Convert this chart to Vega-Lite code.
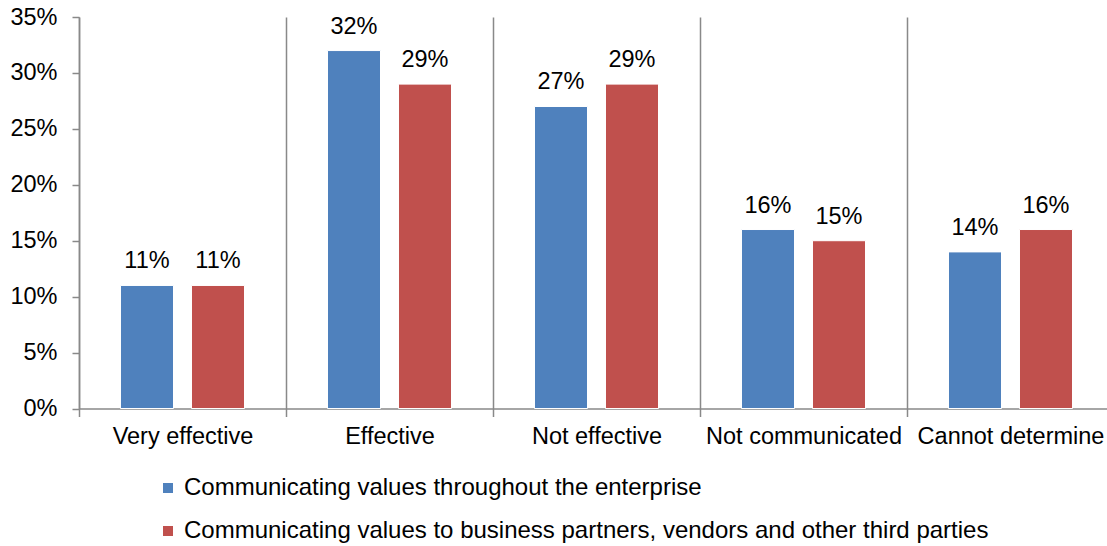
{
  "$schema": "https://vega.github.io/schema/vega-lite/v6.json",
  "width": 1028,
  "height": 391.5,
  "autosize": {"type": "none"},
  "padding": {"left": 79, "top": 17, "right": 0, "bottom": 137.5},
  "background": "white",
  "config": {"view": {"stroke": null}, "font": "Liberation Sans"},
  "data": {
    "values": [
      {"category": "Very effective", "series": "Communicating values throughout the enterprise", "value": 0.11},
      {"category": "Very effective", "series": "Communicating values to business partners, vendors and other third parties", "value": 0.11},
      {"category": "Effective", "series": "Communicating values throughout the enterprise", "value": 0.32},
      {"category": "Effective", "series": "Communicating values to business partners, vendors and other third parties", "value": 0.29},
      {"category": "Not effective", "series": "Communicating values throughout the enterprise", "value": 0.27},
      {"category": "Not effective", "series": "Communicating values to business partners, vendors and other third parties", "value": 0.29},
      {"category": "Not communicated", "series": "Communicating values throughout the enterprise", "value": 0.16},
      {"category": "Not communicated", "series": "Communicating values to business partners, vendors and other third parties", "value": 0.15},
      {"category": "Cannot determine", "series": "Communicating values throughout the enterprise", "value": 0.14},
      {"category": "Cannot determine", "series": "Communicating values to business partners, vendors and other third parties", "value": 0.16}
    ]
  },
  "encoding": {
    "x": {
      "field": "category",
      "type": "nominal",
      "sort": ["Very effective", "Effective", "Not effective", "Not communicated", "Cannot determine"],
      "scale": {"paddingInner": 0, "paddingOuter": 0, "range": [0, 1035]},
      "axis": {
        "title": null,
        "labelAngle": 0,
        "tickBand": "extent",
        "grid": true,
        "gridColor": "#898989",
        "gridWidth": 1.5,
        "domainColor": "#898989",
        "domainWidth": 1.5,
        "tickColor": "#898989",
        "tickWidth": 1.5,
        "tickSize": 8,
        "labelFontSize": 23.5,
        "labelColor": "black",
        "labelPadding": 8,
        "labelLimit": 300
      }
    },
    "xOffset": {
      "field": "series",
      "type": "nominal",
      "sort": ["Communicating values throughout the enterprise", "Communicating values to business partners, vendors and other third parties"],
      "scale": {"paddingInner": 0.2535, "paddingOuter": 0.5845}
    },
    "y": {
      "field": "value",
      "type": "quantitative",
      "scale": {"domain": [0, 0.35]},
      "axis": {
        "title": null,
        "grid": false,
        "values": [0, 0.05, 0.1, 0.15, 0.2, 0.25, 0.3, 0.35],
        "format": ".0%",
        "domainColor": "#898989",
        "domainWidth": 1.5,
        "tickColor": "#898989",
        "tickWidth": 1.5,
        "tickSize": 7,
        "labelFontSize": 23.5,
        "labelColor": "black",
        "labelPadding": 15
      }
    }
  },
  "layer": [
    {
      "mark": {"type": "bar", "stroke": "white", "strokeWidth": 1},
      "encoding": {
        "color": {
          "field": "series",
          "type": "nominal",
          "sort": ["Communicating values throughout the enterprise", "Communicating values to business partners, vendors and other third parties"],
          "scale": {"range": ["#4F81BD", "#C0504D"]},
          "legend": {
            "title": null,
            "orient": "none",
            "legendX": 77,
            "legendY": 459,
            "direction": "vertical",
            "symbolType": "square",
            "symbolSize": 100,
            "symbolStrokeWidth": 0,
            "labelFontSize": 24,
            "labelColor": "black",
            "labelLimit": 1000,
            "rowPadding": 19,
            "labelOffset": 4
          }
        }
      }
    },
    {
      "mark": {"type": "text", "baseline": "alphabetic", "dy": -17, "fontSize": 23.5, "color": "black"},
      "encoding": {"text": {"field": "value", "type": "quantitative", "format": ".0%"}}
    }
  ]
}
